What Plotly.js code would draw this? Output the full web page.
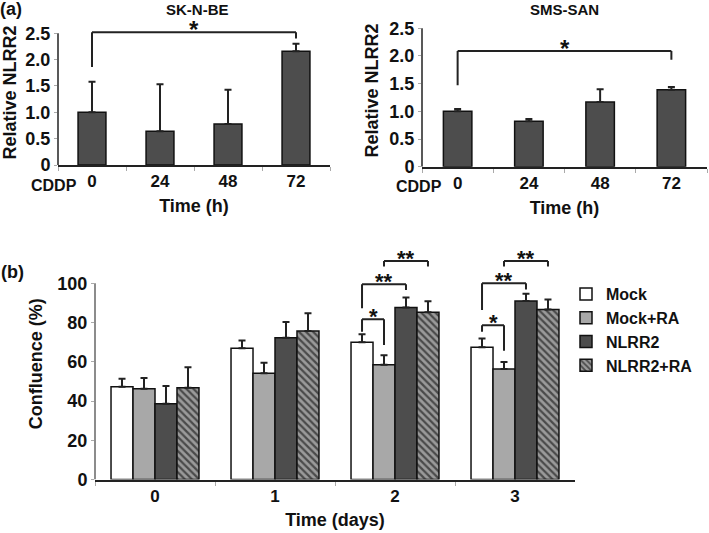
<!DOCTYPE html>
<html>
<head>
<meta charset="utf-8">
<script src="https://cdn.plot.ly/plotly-3.0.1.min.js"></script>
<style>
  body { margin: 0; background: #fff; }
  #plot { width: 709px; height: 533px; }
</style>
</head>
<body>
<div id="plot"></div>
<script>
// (a) relative NLRR2 after CDDP
var hours = ['0', '24', '48', '72'];
var skMean = [1.0, 0.64, 0.78, 2.16];
var skErr = [0.58, 0.89, 0.65, 0.14];
var smsMean = [1.0, 0.82, 1.17, 1.39];
var smsErr = [0.04, 0.04, 0.23, 0.05];
var relTicks = [0, 0.5, 1.0, 1.5, 2.0, 2.5];
var relTickText = ['0', '0.5', '1.0', '1.5', '2.0', '2.5'];

// (b) confluence (%)
var days = ['0', '1', '2', '3'];
var groups = ['Mock', 'Mock+RA', 'NLRR2', 'NLRR2+RA'];
var mock = [47.3, 66.9, 69.9, 67.4];
var mockErr = [4.1, 3.9, 4.1, 4.4];
var mockRA = [46.3, 54.1, 58.5, 56.3];
var mockRAErr = [5.4, 5.4, 4.8, 3.6];
var nlrr2 = [38.6, 72.3, 87.6, 91.0];
var nlrr2Err = [9.1, 8.0, 5.1, 3.7];
var nlrr2RA = [46.8, 75.7, 85.2, 86.7];
var nlrr2RAErr = [10.4, 9.0, 5.6, 5.1];
var confTicks = [0, 20, 40, 60, 80, 100];

// significance brackets: [day, bar a, bar b, top, end a, end b, label]
var sigB = [
  [2, 0, 1, 81.7, 75.3, 68.6, '*'],
  [2, 0, 2, 99.5, 87.3, 96.6, '**'],
  [2, 1, 3, 111.4, 108.5, 108.5, '**'],
  [3, 0, 1, 78.6, 75.3, 65.6, '*'],
  [3, 0, 2, 100, 86.4, 96.9, '**'],
  [3, 1, 3, 111.4, 108.5, 108.5, '**']
];

var W = 709, H = 533;
function px(x) { return x / W; }
function py(y) { return 1 - y / H; }

var FONT = 'Liberation Sans, Arial, sans-serif';
var DARK = '#4d4d4d';
var outline = {color: '#111', width: 1.5};

function errs(a) {
  return {type: 'data', symmetric: false, array: a, arrayminus: a.map(function () { return 0; }),
          color: '#222', thickness: 2, width: 3.5};
}

var data = [
  {type: 'bar', x: hours, y: skMean, width: 0.41, error_y: errs(skErr), xaxis: 'x', yaxis: 'y',
   marker: {color: DARK, line: outline}, showlegend: false},
  {type: 'bar', x: hours, y: smsMean, width: 0.4, error_y: errs(smsErr), xaxis: 'x2', yaxis: 'y2',
   marker: {color: DARK, line: outline}, showlegend: false},
  {type: 'bar', name: groups[0], x: days, y: mock, error_y: errs(mockErr), xaxis: 'x3', yaxis: 'y3',
   marker: {color: '#ffffff', line: outline}},
  {type: 'bar', name: groups[1], x: days, y: mockRA, error_y: errs(mockRAErr), xaxis: 'x3', yaxis: 'y3',
   marker: {color: '#a8a8a8', line: outline}},
  {type: 'bar', name: groups[2], x: days, y: nlrr2, error_y: errs(nlrr2Err), xaxis: 'x3', yaxis: 'y3',
   marker: {color: DARK, line: outline}},
  {type: 'bar', name: groups[3], x: days, y: nlrr2RA, error_y: errs(nlrr2RAErr), xaxis: 'x3', yaxis: 'y3',
   marker: {color: '#9a9a9a', line: outline,
            pattern: {shape: '\\', fgcolor: '#4a4a4a', bgcolor: '#9a9a9a', size: 5, solidity: 0.45}}}
];

function xAx(dom, anchor, title, gap) {
  return {domain: dom, anchor: anchor, type: 'category',
    showline: true, linecolor: '#222', linewidth: 2, ticks: 'outside', tickson: 'boundaries',
    ticklen: 4, tickcolor: '#aaa', tickfont: {size: 17},
    title: {text: title, font: {size: 18}, standoff: gap}};
}
function yAx(dom, anchor, range, tv, tt, title, gap) {
  return {domain: dom, anchor: anchor, range: range, tickvals: tv, ticktext: tt,
    showline: false, zeroline: false, showgrid: false, ticks: 'outside', ticklen: 3, tickcolor: '#aaa',
    tickfont: {size: 18}, title: {text: title, font: {size: 18}, standoff: gap}};
}

var BG = 0.267; // bargap for panel (b)
function barX(day, i) { return day + (i - 1.5) * (1 - BG) / 4; }

var shapes = [
  {type: 'line', xref: 'x domain', yref: 'y', x0: 0, x1: 0, y0: 0, y1: 2.5, line: {color: '#222', width: 1.5}},
  {type: 'line', xref: 'x2 domain', yref: 'y2', x0: 0, x1: 0, y0: 0, y1: 2.5, line: {color: '#222', width: 1.5}},
  {type: 'line', xref: 'x3 domain', yref: 'y3', x0: 0, x1: 0, y0: 0, y1: 100, line: {color: '#666', width: 1.5}}
];
var annotations = [];

function bracket(xr, yr, xa, xb, top, ya, yb, label, size, shift) {
  var ln = {color: '#222', width: 2};
  shapes.push({type: 'line', xref: xr, yref: yr, x0: xa, x1: xa, y0: ya, y1: top, line: ln});
  shapes.push({type: 'line', xref: xr, yref: yr, x0: xa, x1: xb, y0: top, y1: top, line: ln});
  shapes.push({type: 'line', xref: xr, yref: yr, x0: xb, x1: xb, y0: top, y1: yb, line: ln});
  annotations.push({xref: xr, yref: yr, x: (xa + xb) / 2, y: top, text: label, showarrow: false,
    yanchor: 'bottom', yshift: shift, font: {size: size}});
}

bracket('x', 'y', 0, 3, 2.52, 1.86, 2.40, '*', 24, -13);
bracket('x2', 'y2', 0, 3, 2.09, 1.47, 1.93, '*', 24, -13);
sigB.forEach(function (b) {
  bracket('x3', 'y3', barX(b[0], b[1]), barX(b[0], b[2]), b[3], b[4], b[5], b[6], 22, -12);
});

function label(text, x, y, size) {
  annotations.push({xref: 'paper', yref: 'paper', x: px(x), y: py(y), text: text, showarrow: false,
    xanchor: 'center', yanchor: 'middle', font: {size: size}});
}
label('(a)', 11, 9, 18);
label('(b)', 12, 272, 18);
label('SK-N-BE', 197, 9, 15);
label('SMS-SAN', 564, 9, 15);
label('CDDP', 54, 185, 16);
label('CDDP', 419, 186, 16);

var layout = {
  width: W, height: H,
  margin: {l: 0, r: 0, t: 0, b: 0},
  paper_bgcolor: '#fff', plot_bgcolor: '#fff',
  font: {family: FONT, weight: 'bold', color: '#111', size: 16},
  barmode: 'group',
  bargap: BG,
  bargroupgap: 0,
  xaxis: xAx([px(58), px(330)], 'y', 'Time (h)', 9),
  yaxis: yAx([py(165), py(165 - 2.75 * 52.7)], 'x', [0, 2.75], relTicks, relTickText, 'Relative NLRR2', 6),
  xaxis2: xAx([px(422), px(707)], 'y2', 'Time (h)', 9),
  yaxis2: yAx([py(166.7), py(166.7 - 2.75 * 55.4)], 'x2', [0, 2.75], relTicks, relTickText, 'Relative NLRR2', 6),
  xaxis3: xAx([px(95), px(575)], 'y3', 'Time (days)', 8),
  yaxis3: yAx([py(479.5), py(479.5 - 118 * 1.962)], 'x3', [0, 118], confTicks, null, 'Confluence (%)', 10),
  legend: {x: px(566), y: py(330), xanchor: 'left', yanchor: 'middle', font: {size: 16},
    bgcolor: 'rgba(0,0,0,0)', traceorder: 'normal', itemwidth: 30, tracegroupgap: 0},
  shapes: shapes,
  annotations: annotations
};

Plotly.newPlot('plot', data, layout, {displayModeBar: false, staticPlot: true});
</script>
</body>
</html>
